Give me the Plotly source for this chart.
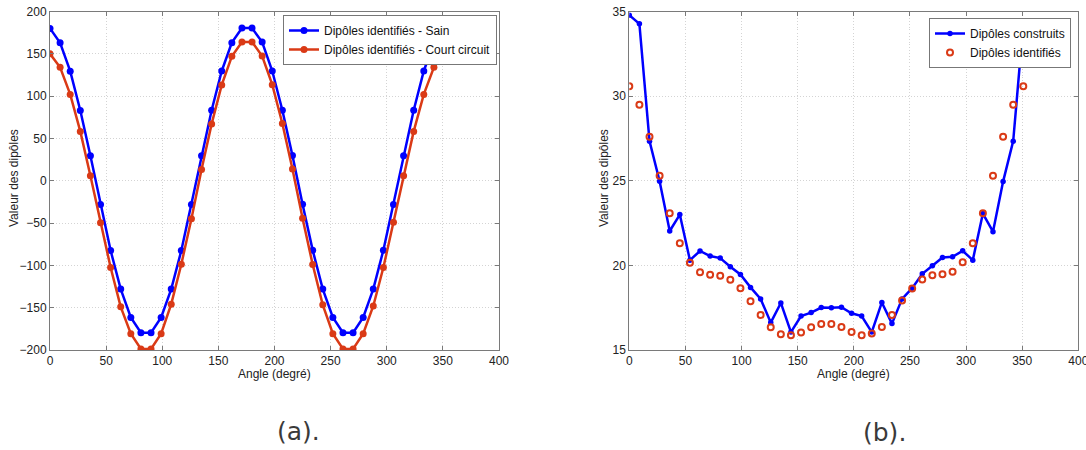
import plotly.graph_objects as go

angles = [0, 9, 18, 27, 36, 45, 54, 63, 72, 81, 90, 99, 108, 117, 126, 135, 144, 153, 162, 171,
          180, 189, 198, 207, 216, 225, 234, 243, 252, 261, 270, 279, 288, 297, 306, 315, 324, 333, 342, 351]

sain = [180, 163, 129.5, 83, 29.5, -28, -82.5, -128, -161.5, -179.6,
        -179.6, -161.5, -128, -82.5, -28, 29.5, 83.4, 129.7, 163.2, 180.4,
        180.4, 164, 129.7, 83.4, 29.9, -27.8, -82, -128, -161.5, -179.6,
        -179.6, -161.5, -128, -82, -28, 29.5, 83.4, 129.7, 163, 180]

court = [150, 134, 102, 58.3, 6, -49.5, -102.6, -149, -180.8, -198.8,
         -198.8, -180.8, -145.8, -98.6, -44.8, 13.4, 67.2, 113.2, 147, 164,
         164, 147.4, 113.5, 67.7, 13.8, -44.3, -99, -146.6, -180.8, -198.8,
         -198.8, -180.8, -148, -102.6, -49, 6, 58.3, 102, 134, 150]

construits = [34.78, 34.27, 27.34, 24.97, 22.03, 23.0, 20.31, 20.85, 20.55, 20.43,
              19.92, 19.46, 18.7, 18.02, 16.62, 17.78, 16.06, 17.01, 17.21, 17.51,
              17.49, 17.53, 17.17, 17.01, 16.06, 17.81, 16.56, 18.02, 18.65, 19.5,
              19.98, 20.47, 20.51, 20.86, 20.31, 23.06, 21.99, 24.95, 27.34, 34.27]

identifies = [30.58, 29.49, 27.6, 25.3, 23.08, 21.3, 20.15, 19.6, 19.44, 19.38,
              19.15, 18.65, 17.88, 17.07, 16.34, 15.93, 15.87, 16.03, 16.34, 16.54,
              16.54, 16.36, 16.06, 15.87, 15.97, 16.36, 17.07, 17.92, 18.64, 19.17,
              19.41, 19.47, 19.62, 20.18, 21.3, 23.08, 25.3, 27.6, 29.49, 30.58]

x_ticks = [0, 50, 100, 150, 200, 250, 300, 350, 400]
y1_ticks = [-200, -150, -100, -50, 0, 50, 100, 150, 200]
y2_ticks = [15, 20, 25, 30, 35]

BLUE = "#0000FF"
RED = "#DA3A16"
W, H = 1086, 450

fig = go.Figure()

fig.add_trace(go.Scatter(x=angles, y=sain, mode="lines+markers", name="Dipôles identifiés - Sain",
                         line=dict(color=BLUE, width=2.5), marker=dict(color=BLUE, size=7, symbol="circle"),
                         xaxis="x", yaxis="y", legend="legend"))
fig.add_trace(go.Scatter(x=angles, y=court, mode="lines+markers", name="Dipôles identifiés - Court circuit",
                         line=dict(color=RED, width=2.5), marker=dict(color=RED, size=7, symbol="circle"),
                         xaxis="x", yaxis="y", legend="legend"))
fig.add_trace(go.Scatter(x=angles, y=construits, mode="lines+markers", name="Dipôles construits",
                         line=dict(color=BLUE, width=2.5), marker=dict(color=BLUE, size=5.5, symbol="circle"),
                         xaxis="x2", yaxis="y2", legend="legend2"))
fig.add_trace(go.Scatter(x=angles, y=identifies, mode="markers", name="Dipôles identifiés",
                         marker=dict(color=RED, size=6, symbol="circle-open", line=dict(width=2, color=RED)),
                         xaxis="x2", yaxis="y2", legend="legend2"))

ydom = [(H - 350) / H, (H - 11.5) / H]
axis_common = dict(showline=True, linecolor="#7a7a7a", linewidth=1, mirror="ticks",
                   ticks="inside", ticklen=4, tickcolor="#7a7a7a", automargin=False,
                   ticklabeloverflow="allow",
                   showgrid=True, gridcolor="#d4d4d4", griddash="1px,2px", gridwidth=1,
                   zeroline=False, tickfont=dict(family="Liberation Sans, Arial", size=12, color="#222"))

legend_common = dict(xanchor="right", yanchor="top", bgcolor="white", bordercolor="#777", borderwidth=1,
                     font=dict(family="Liberation Sans, Arial", size=12, color="#111"),
                     tracegroupgap=0, itemwidth=30)

fig.update_layout(
    width=W, height=H, margin=dict(l=0, r=0, t=0, b=0, autoexpand=False),
    paper_bgcolor="white", plot_bgcolor="white",
    xaxis=dict(domain=[50 / W, 499 / W], range=[0, 400], tickvals=x_ticks, anchor="y", **axis_common),
    yaxis=dict(domain=ydom, range=[-200, 200], tickvals=y1_ticks, anchor="x", **axis_common),
    xaxis2=dict(domain=[629.3 / W, 1078.3 / W], range=[0, 400], tickvals=x_ticks, anchor="y2", **axis_common),
    yaxis2=dict(domain=ydom, range=[15, 35], tickvals=y2_ticks, anchor="x2", **axis_common),
    legend=dict(x=497 / W, y=(H - 15) / H, **legend_common),
    legend2=dict(x=1071 / W, y=(H - 18) / H, **legend_common),
    showlegend=True,
)

title_font = dict(family="Liberation Sans, Arial", size=12, color="#222")
ann = [
    dict(text="Angle (degré)", x=274 / W, y=(H - 373.5) / H),
    dict(text="Angle (degré)", x=853 / W, y=(H - 373.5) / H),
    dict(text="Valeur des dipôles", x=14 / W, y=(H - 178) / H, textangle=-90),
    dict(text="Valeur des dipôles", x=604 / W, y=(H - 178) / H, textangle=-90),
]
for a in ann:
    fig.add_annotation(xref="paper", yref="paper", showarrow=False, xanchor="center", yanchor="middle",
                       font=title_font, **a)

cap_font = dict(family="DejaVu Sans", size=25, color="#3a3a3a")
fig.add_annotation(text="(a).", x=298 / W, y=(H - 431) / H, xref="paper", yref="paper",
                   showarrow=False, xanchor="center", yanchor="middle", font=cap_font)
fig.add_annotation(text="(b).", x=884 / W, y=(H - 432) / H, xref="paper", yref="paper",
                   showarrow=False, xanchor="center", yanchor="middle", font=cap_font)

fig.write_html("out.html", config={"displayModeBar": False},
               post_script="document.body.style.margin='0';document.body.style.overflow='hidden';")
